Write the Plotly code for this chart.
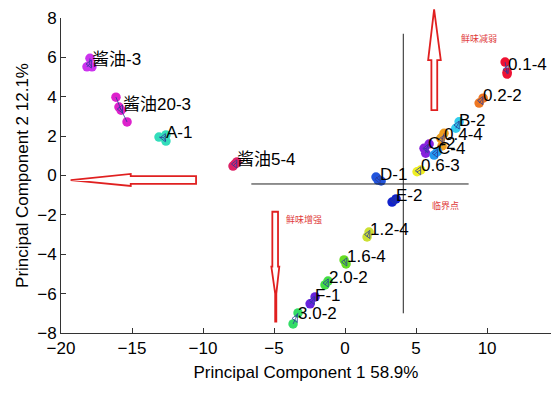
import plotly.graph_objects as go
import numpy as np

# ---- data: PCA replicate scores per sample ----
sample_names = ["酱油-3", "酱油20-3", "A-1", "酱油5-4", "D-1", "E-2", "1.2-4", "1.6-4",
                "2.0-2", "F-1", "3.0-2", "0.1-4", "0.2-2", "B-2", "0.4-4", "C-2", "C-4", "0.6-3"]
pc1_scores = [
    [-18.17, -17.82, -17.96],
    [-16.13, -15.92, -15.77, -15.35],
    [-13.10, -12.61, -12.61],
    [-7.89, -7.61, -7.75],
    [2.18, 2.54, 2.32],
    [3.31, 3.59],
    [1.55, 1.69],
    [-0.07, 0.07],
    [-1.41, -1.20],
    [-2.46, -2.11],
    [-3.31, -3.66],
    [11.27, 11.41, 11.41],
    [9.44, 9.72],
    [8.03, 7.80],
    [6.97, 6.74, 6.83],
    [5.56, 5.68, 5.92],
    [6.27, 6.50],
    [5.07, 5.33],
]
pc2_scores = [
    [5.52, 5.52, 5.95],
    [3.98, 3.48, 3.32, 2.72],
    [1.95, 2.06, 1.75],
    [0.48, 0.69, 0.58],
    [-0.08, -0.28, -0.23],
    [-1.35, -1.19],
    [-3.12, -2.87],
    [-4.29, -4.49],
    [-5.56, -5.36],
    [-6.52, -6.17],
    [-6.98, -7.54],
    [5.76, 5.25, 5.15],
    [3.68, 3.93],
    [2.73, 2.40],
    [2.14, 1.89, 1.50],
    [1.38, 1.13, 1.60],
    [1.04, 1.21],
    [0.19, 0.28],
]
sample_colors = ["#cc33ee", "#dd22cc", "#33ddbb", "#dd2266", "#2255dd", "#1122cc", "#cce033",
                 "#66dd22", "#44dd44", "#6622dd", "#33dd66", "#ee1133", "#ee7722", "#33ccee",
                 "#eea022", "#8822dd", "#2299ee", "#eeee22"]

x_ticks = [-20, -15, -10, -5, 0, 5, 10]
y_ticks = [-8, -6, -4, -2, 0, 2, 4, 6, 8]
x_title = "Principal Component 1 58.9%"
y_title = "Principal Component 2 12.1%"

# reference (critical point) lines
h_line_y = -0.43
h_line_x = [-6.6, 8.7]
v_line_x = 4.1
v_line_y = [-7.0, 7.2]

notes = ["鲜味减弱", "鲜味增强", "临界点"]
note_x = [9.44, -2.89, 7.04]
note_y = [6.98, -2.21, -1.50]

XR = [-20, 14.5]
YR = [-8, 8]

FONT = "Liberation Sans, Arial, Noto Sans CJK SC, sans-serif"

fig = go.Figure()

for name, xs, ys, col in zip(sample_names, pc1_scores, pc2_scores, sample_colors):
    xs = np.array(xs); ys = np.array(ys)
    cx, cy = xs.mean(), ys.mean()
    fig.add_trace(go.Scatter(x=xs, y=ys, mode="markers",
                             marker=dict(size=9.5, color=col, line=dict(width=0)),
                             showlegend=False, hoverinfo="skip"))
    lx, ly = [], []
    for a, b in zip(xs, ys):
        lx += [cx, a, None]; ly += [cy, b, None]
    fig.add_trace(go.Scatter(x=lx, y=ly, mode="lines",
                             line=dict(color="#2a3a9a", width=0.8),
                             showlegend=False, hoverinfo="skip"))
    fig.add_trace(go.Scatter(x=[cx], y=[cy], mode="markers",
                             marker=dict(symbol="triangle-left-open", size=7,
                                         color="#2a3a9a", line=dict(width=0.8)),
                             showlegend=False, hoverinfo="skip"))
    fig.add_annotation(x=cx, y=cy, text=name, showarrow=False, xanchor="left",
                       yanchor="middle", xshift=0, yshift=5,
                       font=dict(family=FONT, size=17, color="black"))

# black reference lines
fig.add_shape(type="line", x0=h_line_x[0], x1=h_line_x[1], y0=h_line_y, y1=h_line_y,
              line=dict(color="#222222", width=1))
fig.add_shape(type="line", x0=v_line_x, x1=v_line_x, y0=v_line_y[0], y1=v_line_y[1],
              line=dict(color="#222222", width=1))


def px_(x):
    return (x - XR[0]) / (XR[1] - XR[0])


def py_(y):
    return (y - YR[0]) / (YR[1] - YR[0])


def poly(pts):
    s = "M " + " L ".join(f"{px_(a):.5f},{py_(b):.5f}" for a, b in pts) + " Z"
    return s


# outlined red arrows (annotation graphics)
left_arrow = [(-19.32, -0.23), (-15.09, 0.08), (-15.09, -0.03), (-10.49, -0.03),
              (-10.49, -0.43), (-15.09, -0.43), (-15.09, -0.53)]
up_arrow = [(6.27, 8.44), (6.74, 5.86), (6.49, 5.86), (6.49, 3.32),
            (6.08, 3.32), (6.08, 5.86), (5.85, 5.86)]
down_arrow = [(-5.12, -1.84), (-4.72, -1.84), (-4.72, -4.63), (-4.63, -4.63),
              (-4.84, -6.0), (-4.84, -7.42), (-4.92, -7.42), (-4.92, -6.0),
              (-5.19, -4.63), (-5.12, -4.63)]
for arr in (left_arrow, up_arrow, down_arrow):
    fig.add_shape(type="path", path=poly(arr), xref="paper", yref="paper",
                  line=dict(color="#e02020", width=1.8), fillcolor="rgba(255,255,255,0)")

for t, a, b in zip(notes, note_x, note_y):
    fig.add_annotation(x=a, y=b, text=t, showarrow=False,
                       font=dict(family="Noto Sans CJK SC", size=9, color="#e03a3a"))

fig.update_layout(
    width=551, height=395,
    margin=dict(l=61, r=0, t=18, b=62),
    paper_bgcolor="white", plot_bgcolor="white",
    font=dict(family=FONT, size=17, color="black"),
    showlegend=False,
)
fig.update_xaxes(range=XR, tickvals=x_ticks, ticks="inside", ticklen=5, tickcolor="#333",
                 showline=True, linecolor="#333", linewidth=1, mirror=False,
                 showgrid=False, zeroline=False, automargin=False,
                 title=dict(text=x_title, font=dict(size=17), standoff=8),
                 tickfont=dict(size=17))
fig.update_yaxes(range=YR, tickvals=y_ticks, ticks="inside", ticklen=5, tickcolor="#333",
                 showline=True, linecolor="#333", linewidth=1, mirror=False,
                 showgrid=False, zeroline=False, automargin=False,
                 title=dict(text=y_title, font=dict(size=17), standoff=4),
                 tickfont=dict(size=17))

fig.write_html("out.html", config={"displayModeBar": False},
               post_script="document.body.style.margin='0px';document.body.style.overflow='hidden';")
